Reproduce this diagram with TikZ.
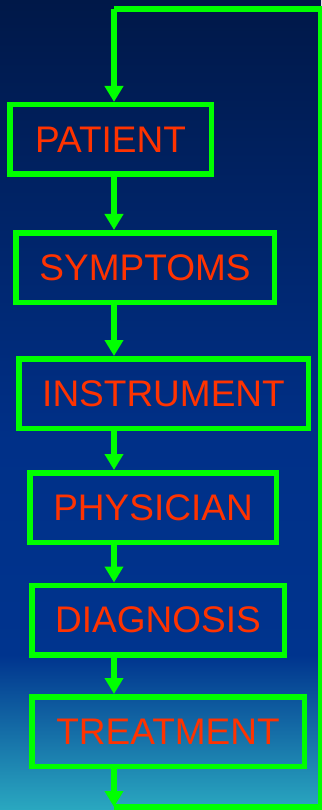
\documentclass[tikz,border=0pt]{standalone}
\usepackage{fontspec}
\setmainfont{Liberation Sans}
\usepackage{tikz}
\usetikzlibrary{arrows.meta}
\definecolor{bgtop}{RGB}{0,24,72}
\definecolor{bgmid}{RGB}{0,48,136}
\definecolor{bglow}{RGB}{0,52,142}
\definecolor{bgbot}{RGB}{42,168,192}
\definecolor{boxgreen}{RGB}{0,255,0}
\definecolor{labelred}{RGB}{255,51,0}
\tikzset{
  stage/.style={draw=boxgreen, line width=5.5pt, rectangle, minimum height=69.5pt,
    text=labelred, font=\fontsize{37}{40}\selectfont, inner sep=0pt},
  flow/.style={draw=boxgreen, line width=5.5pt, -{Triangle[width=18pt,length=16pt]}},
  loopline/.style={draw=boxgreen, line width=5.5pt}
}
\begin{document}
\begin{tikzpicture}[x=1pt,y=-1pt]
% background
\useasboundingbox (0,0) rectangle (321,810);
\shade[top color=bgtop, bottom color=bgmid] (0,0) rectangle (321,440);
\shade[top color=bgmid, bottom color=bglow] (0,440) rectangle (321,655);
\shade[top color=bglow, bottom color=bgbot] (0,655) rectangle (321,810);

\node [stage, minimum width=201.5pt] (patient) at (110.5,139.5) {PATIENT};
\node [stage, minimum width=258.5pt] (symptoms) at (145,267.5) {SYMPTOMS};
\node [stage, minimum width=289.5pt] (instrument) at (163.5,393.5) {INSTRUMENT};
\node [stage, minimum width=246.5pt] (physician) at (153,507.5) {PHYSICIAN};
\node [stage, minimum width=252.5pt] (diagnosis) at (158,620) {DIAGNOSIS};
\node [stage, minimum width=272.5pt] (treatment) at (168,731.5) {TREATMENT};

\coordinate (col) at (114,0);
\coordinate (back) at (114,807);
\coordinate (corner) at (320.5,9);

\draw [flow] (col |- patient.south) -- (col |- symptoms.north);
\draw [flow] (col |- symptoms.south) -- (col |- instrument.north);
\draw [flow] (col |- instrument.south) -- (col |- physician.north);
\draw [flow] (col |- physician.south) -- (col |- diagnosis.north);
\draw [flow] (col |- diagnosis.south) -- (col |- treatment.north);
\draw [flow] (col |- treatment.south) -- (back);

% feedback loop
\draw [loopline] (back) -| (corner) -- (col |- corner);
\draw [flow] (col |- corner) -- (col |- patient.north);
\end{tikzpicture}
\end{document}
